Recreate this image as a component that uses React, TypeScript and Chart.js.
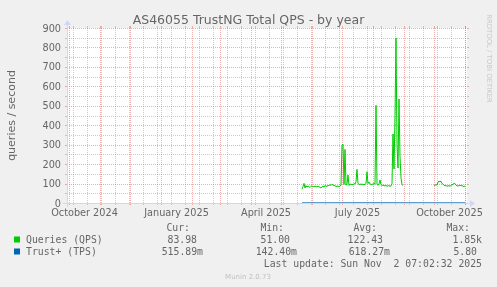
import React, { useEffect, useRef } from "react";
import { Chart, registerables } from "chart.js";

Chart.register(...registerables);

// ---------- data ----------
const TITLE = "AS46055 TrustNG Total QPS - by year";
const Y_LABEL = "queries / second";
const X_DAYS = 400; // graph spans 400 days (x = day index from graph start)
const Y_MAX = 900;

const yMajorTicks = [0, 100, 200, 300, 400, 500, 600, 700, 800, 900];
const yMinorTicks = [50, 150, 250, 350, 450, 550, 650, 750, 850];

// first day of each month, as day index from graph start
const monthStartDays = [2, 33, 63, 94, 125, 153, 184, 214, 245, 275, 306, 337, 367, 398];
// minor grid (every two weeks)
const minorGridDays = [6, 20, 34, 48, 62, 76, 90, 104, 118, 132, 146, 160, 174, 188, 202, 216, 230, 244, 258, 272, 286, 300, 314, 328, 342, 356, 370, 384, 398];

const xTickLabels = ["October 2024", "January 2025", "April 2025", "July 2025", "October 2025"];
const xTickLabelDays = [17.5, 109.5, 199, 290.5, 382.5];

// Queries (QPS), daily values
const qpsSeg1Start = 235;
const qpsSeg1 = [
  70, 85, 101, 77, 90, 82, 88, 84, 80, 86, // 235-244
  88, 83, 85, 87, 84, 82, 86, 84, 80, 78, // 245-254
  83, 86, 82, 90, 88, 84, 92, 88, 95, 90, // 255-264
  96, 92, 90, 88, 86, 85, 88, 84, 88, 92, // 265-274
  298, 303, 95, 276, 92, 98, 144, 90, 98, 95, // 275-284
  96, 94, 100, 97, 110, 173, 100, 96, 95, 98, // 285-294
  95, 97, 94, 96, 100, 161, 100, 108, 98, 96, // 295-304
  95, 98, 100, 97, 502, 95, 92, 98, 118, 95, // 305-314
  90, 92, 90, 88, 90, 86, 88, 90, 85, 88, // 315-324
  100, 355, 175, 450, 849, 300, 180, 535, 240, 130, // 325-334
  95, 90, // 335-336
];
const qpsSeg2Start = 367;
const qpsSeg2 = [
  92, 90, 95, 92, 108, 112, 110, 112, 100, 97, // 367-376
  92, 88, 90, 86, 88, 90, 85, 92, 94, 96, // 377-386
  102, 100, 92, 88, 87, 90, 92, 88, 90, 86, // 387-396
  84, 88, // 397-398
];

// Trust+ (TPS)
const tpsDays = [235, 260, 290, 320, 336, 367, 398];
const tpsValues = [0.55, 0.6, 0.7, 0.8, 0.6, 0.5, 0.52];

// legend
const legendHeaders = ["Cur:", "Min:", "Avg:", "Max:"];
const seriesNames = ["Queries (QPS)", "Trust+ (TPS)"];
const seriesColors = ["#00CC00", "#0066B3"];
const qpsStats = ["83.98", "51.00", "122.43", "1.85k"];
const tpsStats = ["515.89m", "142.40m", "618.27m", "5.80"];
const LAST_UPDATE = "Last update: Sun Nov  2 07:02:32 2025";
const FOOTER = "Munin 2.0.73";
const WATERMARK = "RRDTOOL / TOBI OETIKER";

// ---------- styling ----------
const FONT = "'DejaVu Sans', sans-serif";
const MONO = "'DejaVu Sans Mono', monospace";
const TEXT_COLOR = "#666666";
const GRID = "rgba(143,143,143,0.45)";
const MGRID = "rgba(222,79,79,0.45)";
const AXIS = "#CFD6F8";

const muninPlugin = {
  id: "muninLook",
  beforeDraw(chart: any) {
    const { ctx, chartArea: a } = chart;
    ctx.save();
    ctx.fillStyle = "#F0F0F0";
    ctx.fillRect(0, 0, chart.width, chart.height);
    ctx.fillStyle = "#FFFFFF";
    ctx.fillRect(a.left, a.top, a.right - a.left, a.bottom - a.top);
    ctx.restore();
  },
  beforeDatasetsDraw(chart: any) {
    const { ctx, chartArea: a, scales } = chart;
    const xs = scales.x, ys = scales.y;
    const L = a.left, R = a.right, T = a.top, B = a.bottom;
    ctx.save();
    ctx.lineWidth = 1;
    const hline = (v: number, color: string) => {
      const py = Math.round(ys.getPixelForValue(v)) + 0.5;
      ctx.strokeStyle = color;
      ctx.setLineDash([]);
      ctx.beginPath();
      ctx.moveTo(L - 2, py); ctx.lineTo(L, py);
      ctx.moveTo(R, py); ctx.lineTo(R + 2, py);
      ctx.stroke();
      ctx.setLineDash([1, 1]);
      ctx.beginPath();
      ctx.moveTo(L, py); ctx.lineTo(R, py);
      ctx.stroke();
    };
    const vline = (d: number, color: string) => {
      const px = Math.round(xs.getPixelForValue(d)) + 0.5;
      ctx.strokeStyle = color;
      ctx.setLineDash([]);
      ctx.beginPath();
      ctx.moveTo(px, T - 2); ctx.lineTo(px, T);
      ctx.moveTo(px, B); ctx.lineTo(px, B + 2);
      ctx.stroke();
      ctx.setLineDash([1, 1]);
      ctx.beginPath();
      ctx.moveTo(px, T); ctx.lineTo(px, B);
      ctx.stroke();
    };
    yMinorTicks.forEach((v) => hline(v, GRID));
    minorGridDays.forEach((d) => vline(d, GRID));
    yMajorTicks.forEach((v) => hline(v, MGRID));
    monthStartDays.forEach((d) => vline(d, MGRID));

    // axes
    ctx.setLineDash([]);
    ctx.strokeStyle = AXIS;
    ctx.fillStyle = AXIS;
    const by = B + 0.5, lx = L + 0.5;
    ctx.beginPath();
    ctx.moveTo(L - 4, by); ctx.lineTo(R + 4, by);
    ctx.moveTo(lx, B + 4); ctx.lineTo(lx, T - 4);
    ctx.stroke();
    ctx.beginPath();
    ctx.moveTo(R + 8, by); ctx.lineTo(R + 3, by - 3.5); ctx.lineTo(R + 3, by + 3.5); ctx.closePath();
    ctx.fill();
    ctx.beginPath();
    ctx.moveTo(lx, T - 8); ctx.lineTo(lx - 3.5, T - 3); ctx.lineTo(lx + 3.5, T - 3); ctx.closePath();
    ctx.fill();
    ctx.restore();
  },
  afterDraw(chart: any) {
    const { ctx, chartArea: a, scales } = chart;
    const xs = scales.x, ys = scales.y;
    ctx.save();
    ctx.fillStyle = TEXT_COLOR;

    // title
    ctx.font = `12.5px ${FONT}`;
    ctx.textAlign = "center";
    ctx.textBaseline = "alphabetic";
    ctx.fillText(TITLE, 248.5, 24);

    // y tick labels
    ctx.font = `9.72px ${FONT}`;
    ctx.textAlign = "right";
    yMajorTicks.forEach((v) => {
      ctx.fillText(String(v), a.left - 6, ys.getPixelForValue(v) + 3.5);
    });
    // x tick labels
    ctx.textAlign = "center";
    xTickLabels.forEach((t, i) => {
      ctx.fillText(t, xs.getPixelForValue(xTickLabelDays[i]), a.bottom + 13);
    });

    // y axis title
    ctx.save();
    ctx.font = `11px ${FONT}`;
    ctx.translate(12, 115.5);
    ctx.rotate(-Math.PI / 2);
    ctx.textAlign = "center";
    ctx.textBaseline = "middle";
    ctx.fillText(Y_LABEL, 0, 0);
    ctx.restore();

    // watermark
    ctx.save();
    ctx.fillStyle = "#C8C8C8";
    ctx.font = `6.9px ${FONT}`;
    ctx.translate(488.5, 58.5);
    ctx.rotate(Math.PI / 2);
    ctx.textAlign = "center";
    ctx.textBaseline = "middle";
    ctx.fillText(WATERMARK, 0, 0);
    ctx.restore();

    // legend
    ctx.font = `9.8px ${MONO}`;
    ctx.textBaseline = "alphabetic";
    const colRight = [[190, 284, 377, 470], [197, 290, 383, 482], [203, 297, 390, 477]];
    ctx.textAlign = "right";
    legendHeaders.forEach((h, i) => ctx.fillText(h, colRight[0][i], 231));
    qpsStats.forEach((s, i) => ctx.fillText(s, colRight[1][i], 243));
    tpsStats.forEach((s, i) => ctx.fillText(s, colRight[2][i], 255));
    ctx.fillText(LAST_UPDATE, 482, 267);
    ctx.textAlign = "left";
    seriesNames.forEach((n, i) => {
      const y = 243 + i * 12;
      ctx.fillStyle = seriesColors[i];
      ctx.fillRect(14, y - 6.5, 6, 6);
      ctx.fillStyle = TEXT_COLOR;
      ctx.fillText(n, 26, y);
    });

    // footer
    ctx.fillStyle = "#C0C0C0";
    ctx.font = `7px ${FONT}`;
    ctx.textAlign = "center";
    ctx.fillText(FOOTER, 248, 279);
    ctx.restore();
  },
};

export default function App() {
  const ref = useRef<HTMLCanvasElement>(null);
  useEffect(() => {
    const qpsData: { x: number; y: number | null }[] = [];
    qpsSeg1.forEach((v, i) => qpsData.push({ x: qpsSeg1Start + i, y: v }));
    qpsData.push({ x: (qpsSeg1Start + qpsSeg1.length + qpsSeg2Start) / 2, y: null });
    qpsSeg2.forEach((v, i) => qpsData.push({ x: qpsSeg2Start + i, y: v }));
    const tpsData = tpsDays.map((d, i) => ({ x: d, y: tpsValues[i] }));

    const chart = new Chart(ref.current as HTMLCanvasElement, {
      type: "line",
      data: {
        datasets: [
          {
            label: seriesNames[0],
            data: qpsData as any,
            borderColor: seriesColors[0],
            borderWidth: 1,
            pointRadius: 0,
            tension: 0,
            spanGaps: false,
            order: 2,
          },
          {
            label: seriesNames[1],
            data: tpsData as any,
            borderColor: seriesColors[1],
            borderWidth: 1,
            pointRadius: 0,
            tension: 0,
            order: 1,
          },
        ],
      },
      options: {
        responsive: false,
        maintainAspectRatio: false,
        devicePixelRatio: 1,
        animation: false,
        events: [],
        layout: { padding: { left: 67, right: 30, top: 28, bottom: 84 } },
        plugins: { legend: { display: false }, tooltip: { enabled: false }, title: { display: false } },
        scales: {
          x: { type: "linear", min: 0, max: X_DAYS, display: false },
          y: { type: "linear", min: 0, max: Y_MAX, display: false },
        },
      },
      plugins: [muninPlugin],
    });
    return () => chart.destroy();
  }, []);
  return (
    <div style={{ position: "fixed", left: 0, top: 0, width: 497, height: 287, background: "#F0F0F0" }}>
      <canvas ref={ref} width={497} height={287} style={{ display: "block", width: 497, height: 287 }} />
    </div>
  );
}
